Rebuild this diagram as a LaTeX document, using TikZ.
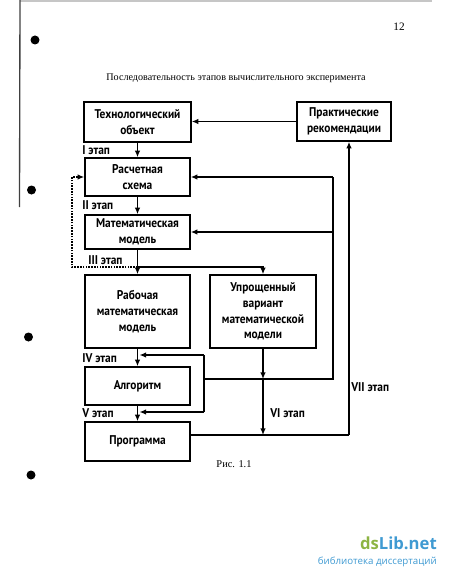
\documentclass[tikz,border=0pt]{standalone}
\usepackage{fontspec}
\setmainfont{Liberation Serif}
\newfontfamily\boxfont[FakeStretch=0.9]{PT Sans}
\newfontfamily\wmfont{Open Sans}
\usetikzlibrary{arrows.meta}
\definecolor{wmgreen}{HTML}{8DB443}
\definecolor{wmblue}{HTML}{3F9AD2}
\tikzset{
  blk/.style={draw, line width=1.1pt, align=center, inner sep=1pt,
    font=\boxfont\bfseries\fontsize{9.5}{11.8}\selectfont},
  lbl/.style={anchor=west, inner sep=0pt, font=\boxfont\bfseries\fontsize{9.5}{11}\selectfont},
  conn/.style={line width=1.1pt},
  arr/.style={conn, -{Latex[length=5pt,width=4.2pt]}},
}
\begin{document}
\begin{tikzpicture}[x=0.75pt,y=-0.75pt]
\useasboundingbox (0,0) rectangle (450,581);
% page decorations
\draw[gray!45, line width=0.8pt] (20,1) -- (432,1);
\draw[black!75, line width=1pt] (20,0) -- (19.5,207);
\fill (35,40) circle (4.5);
\fill (31.5,190) circle (4.5);
\fill (28.5,337) circle (4.5);
\fill (31,475) circle (4.5);
\node[font=\fontsize{8.5}{10}\selectfont] (pnum) at (399,27) {12};
\node[font=\fontsize{7.6}{9}\selectfont] (title) at (236,78) {Последовательность этапов вычислительного эксперимента};
\node[font=\fontsize{7.8}{9}\selectfont] (fig) at (234,464) {Рис. 1.1};
% boxes
\node[blk, minimum width=107*0.75pt, minimum height=40*0.75pt] (tech) at (137.5,122) {Технологический\\объект};
\node[blk, minimum width=94*0.75pt, minimum height=39*0.75pt] (prak) at (344,121.5) {Практические\\рекомендации};
\node[blk, minimum width=105*0.75pt, minimum height=38*0.75pt] (rasch) at (137.5,177) {Расчетная\\схема};
\node[blk, minimum width=105*0.75pt, minimum height=34*0.75pt] (mat) at (137.5,232) {Математическая\\модель};
\node[blk, minimum width=105*0.75pt, minimum height=73*0.75pt] (rab) at (137.5,311.5) {Рабочая\\математическая\\модель};
\node[blk, minimum width=106*0.75pt, minimum height=73*0.75pt] (upr) at (263,311.5) {Упрощенный\\вариант\\математической\\модели};
\node[blk, minimum width=105*0.75pt, minimum height=38*0.75pt] (alg) at (137.5,386) {Алгоритм};
\node[blk, minimum width=105*0.75pt, minimum height=39*0.75pt] (prog) at (137.5,441.5) {Программа};
% labels
\node[lbl] (l1) at (82,150) {I этап};
\node[lbl] (l2) at (82,205) {II этап};
\node[lbl] (l3) at (88,260) {III этап};
\node[lbl] (l4) at (82,358) {IV этап};
\node[lbl] (l5) at (82,413) {V этап};
\node[lbl] (l6) at (270,413) {VI этап};
\node[lbl] (l7) at (351,387) {VII этап};
% coordinates
\coordinate (j1) at (137.5,267);
\coordinate (dl) at (72,267);
\coordinate (fbT) at (204,355);
\coordinate (fbM) at (204,379);
\coordinate (fbB) at (204,412);
\coordinate (fbR) at (333,379);
\coordinate (up) at (263,379);
\coordinate (po) at (190,435);
\coordinate (pc) at (349,435);
\coordinate (pv) at (263,435);
% connectors
\draw[arr] (prak.west) -- (prak.west -| tech.east);
\draw[arr] (tech.south) -- (rasch.north);
\draw[arr] (rasch.south) -- (mat.north);
\draw[arr] (mat.south) -- (rab.north);
\draw[arr] (j1) -| (upr.north);
\draw[line width=1.1pt, densely dotted, -{Latex[length=5pt,width=4.2pt]}] (j1) -- (dl) |- (rasch.west);
\draw[arr] (rab.south) -- (alg.north);
\draw[arr] (alg.south) -- (prog.north);
\draw[conn] (fbT) -- (fbB);
\draw[arr, shorten >=1.5pt] (fbT) -- (fbT -| rab.south);
\draw[arr, shorten >=1.5pt] (fbB) -- (fbB -| alg.south);
\draw[conn] (fbM) -- (fbR) -- (fbR |- rasch.east);
\draw[arr] (fbR |- rasch.east) -- (rasch.east);
\draw[arr] (fbR |- mat.east) -- (mat.east);
\draw[arr] (upr.south) -- (up);
\draw[arr] (up) -- (pv);
\draw[conn] (po) -- (pc);
\draw[arr] (pc) -- (pc |- prak.south);
% watermark
\node[anchor=east, inner sep=0pt, font=\wmfont\bfseries\fontsize{12.5}{14}\selectfont] (wm1) at (437,543) {\textcolor{wmgreen}{ds}\textcolor{wmblue}{Lib.net}};
\node[anchor=east, inner sep=0pt, text=wmblue, font=\wmfont\fontsize{7.3}{9}\selectfont] (wm2) at (437,562) {библиотека диссертаций};
\end{tikzpicture}
\end{document}
